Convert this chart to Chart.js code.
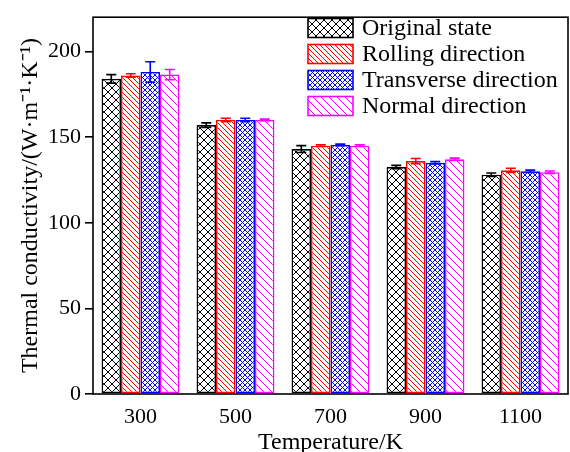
<!DOCTYPE html>
<html>
<head>
<meta charset="utf-8">
<script src="https://cdn.jsdelivr.net/npm/chart.js@4.4.0/dist/chart.umd.min.js"></script>
<style>
html,body{margin:0;padding:0;background:#fff;}
#wrap{width:570px;height:452px;position:relative;}
</style>
</head>
<body>
<div id="wrap"><canvas id="c" width="570" height="452"></canvas></div>
<script>
// ---- data ----
const categories = ['300', '500', '700', '900', '1100'];
const seriesNames = ['Original state', 'Rolling direction', 'Transverse direction', 'Normal direction'];
const originalState = [184, 157, 143, 132.5, 128];
const rollingDirection = [186, 160, 145, 136, 130.6];
const transverseDirection = [188, 160, 145.5, 135, 130];
const normalDirection = [186.5, 160, 145, 137, 129.5];
const originalErr = [2.5, 1.3, 2, 1, 1];
const rollingErr = [1, 1, 0.5, 1.5, 1.2];
const transverseErr = [6, 1, 0.5, 0.7, 0.7];
const normalErr = [3, 0.5, 0.5, 0.7, 0.7];
const yTicks = [0, 50, 100, 150, 200];

const FONT = '"Liberation Serif", "Times New Roman", serif';

function makePattern(color, spacing, mode, lw) {
  const c = document.createElement('canvas');
  c.width = spacing; c.height = spacing;
  const g = c.getContext('2d');
  g.fillStyle = '#fff';
  g.fillRect(0, 0, spacing, spacing);
  g.strokeStyle = color;
  g.lineWidth = lw;
  g.beginPath();
  for (let k = -1; k <= 1; k++) {
    g.moveTo(k * spacing, 0); g.lineTo(k * spacing + spacing, spacing);
  }
  if (mode === 'cross') {
    for (let k = -1; k <= 1; k++) {
      g.moveTo(k * spacing + spacing, 0); g.lineTo(k * spacing, spacing);
    }
  }
  g.stroke();
  return document.getElementById('c').getContext('2d').createPattern(c, 'repeat');
}

function build() {
  const colors = ['#000000', '#ff0000', '#0000ff', '#ff00ff'];
  const patterns = [
    makePattern('#000000', 8, 'cross', 1),
    makePattern('#ff0000', 5, 'diag', 1),
    makePattern('#0000ff', 5, 'cross', 1),
    makePattern('#ff00ff', 8, 'diag', 1)
  ];
  const values = [originalState, rollingDirection, transverseDirection, normalDirection];
  const errors = [originalErr, rollingErr, transverseErr, normalErr];

  const datasets = seriesNames.map((n, i) => ({
    label: n,
    data: values[i],
    errors: errors[i],
    backgroundColor: patterns[i],
    borderColor: colors[i],
    borderWidth: 1.6,
    borderSkipped: false,
    categoryPercentage: 0.82,
    barPercentage: 1.0
  }));

  const errorBarPlugin = {
    id: 'errorBars',
    afterDatasetsDraw(chart) {
      const ctx = chart.ctx;
      const y = chart.scales.y;
      chart.data.datasets.forEach((ds, i) => {
        const meta = chart.getDatasetMeta(i);
        meta.data.forEach((el, j) => {
          const v = ds.data[j], e = ds.errors[j];
          const top = y.getPixelForValue(v + e);
          const bot = y.getPixelForValue(v - e);
          ctx.save();
          ctx.strokeStyle = ds.borderColor;
          ctx.lineWidth = 1.6;
          ctx.beginPath();
          ctx.moveTo(el.x, top); ctx.lineTo(el.x, bot);
          ctx.moveTo(el.x - 5, top); ctx.lineTo(el.x + 5, top);
          ctx.moveTo(el.x - 5, bot); ctx.lineTo(el.x + 5, bot);
          ctx.stroke();
          ctx.restore();
        });
      });
    }
  };

  const framePlugin = {
    id: 'frame',
    afterDraw(chart) {
      const a = chart.chartArea, ctx = chart.ctx;
      ctx.save();
      ctx.strokeStyle = '#000';
      ctx.lineWidth = 1.6;
      ctx.strokeRect(a.left, a.top, a.right - a.left, a.bottom - a.top);
      ctx.restore();
    }
  };

  const legendPlugin = {
    id: 'customLegend',
    afterDraw(chart) {
      const ctx = chart.ctx;
      const bx = 308, bw = 45, bh = 19;
      const y0 = 28, dy = 26;
      ctx.save();
      chart.data.datasets.forEach((ds, i) => {
        const cy = y0 + dy * i;
        ctx.fillStyle = ds.backgroundColor;
        ctx.fillRect(bx, cy - bh / 2, bw, bh);
        ctx.strokeStyle = ds.borderColor;
        ctx.lineWidth = 1.6;
        ctx.strokeRect(bx, cy - bh / 2, bw, bh);
        ctx.fillStyle = '#000';
        ctx.font = '24px ' + FONT;
        ctx.textBaseline = 'middle';
        ctx.textAlign = 'left';
        ctx.fillText(ds.label, bx + bw + 9, cy + 1);
      });
      ctx.restore();
    }
  };

  new Chart(document.getElementById('c'), {
    type: 'bar',
    data: { labels: categories, datasets },
    options: {
      responsive: false,
      animation: false,
      devicePixelRatio: 1,
      layout: { padding: { left: 0, right: 2, top: 12, bottom: 0 } },
      plugins: { legend: { display: false }, tooltip: { enabled: false } },
      scales: {
        x: {
          grid: { display: false },
          border: { display: false },
          ticks: { color: '#000', font: { family: FONT, size: 22 }, padding: 2 },
          title: { display: true, text: 'Temperature/K', color: '#000', font: { family: FONT, size: 24 }, padding: { top: 0, bottom: -5 } },
          afterFit(s) { s.height = 58; }
        },
        y: {
          min: 0, max: 220,
          afterBuildTicks(s) { s.ticks = yTicks.map(v => ({ value: v })); },
          grid: { display: true, drawOnChartArea: false, drawTicks: true, tickLength: 8, color: '#000', lineWidth: 1.6 },
          border: { display: false },
          ticks: { color: '#000', font: { family: FONT, size: 22 }, padding: 4 },
          title: { display: true, text: 'Thermal conductivity/(W\u00b7m\u207b\u00b9\u00b7K\u207b\u00b9)', color: '#000', font: { family: FONT, size: 24 }, padding: { top: 16, bottom: 0 } },
          afterFit(s) { s.width = 93; }
        }
      }
    },
    plugins: [errorBarPlugin, framePlugin, legendPlugin]
  });
}

Promise.all([
  document.fonts.load('22px "Liberation Serif"'),
  document.fonts.load('22px "DejaVu Serif"')
]).then(build, build);
</script>
</body>
</html>
